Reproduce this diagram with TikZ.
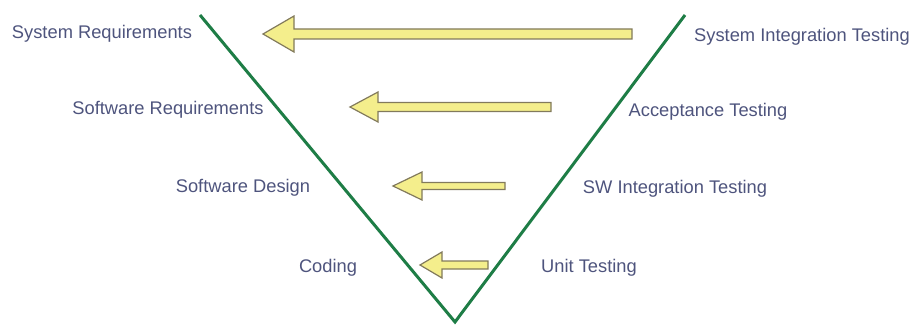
\documentclass[tikz,border=0pt]{standalone}
\usepackage{fontspec}
\setmainfont{Liberation Sans}
\definecolor{vgreen}{RGB}{30,125,70}
\definecolor{lbl}{RGB}{78,84,125}
\definecolor{afill}{RGB}{244,238,140}
\definecolor{adraw}{RGB}{130,122,92}
\tikzset{
  lab/.style={text=lbl, font=\fontsize{18.3}{20}\selectfont, inner sep=0pt},
  vline/.style={draw=vgreen, line width=3pt, line join=miter},
  fatarrow/.style={fill=afill, draw=adraw, line width=1.2pt, line join=miter},
}
% tip x, head base x, tail x, y, half head, half shaft
\newcommand\fatarrowpath[6]{%
  \draw[fatarrow] (#3,#4-#6) -- (#2,#4-#6) -- (#2,#4-#5) -- (#1,#4) -- (#2,#4+#5) -- (#2,#4+#6) -- (#3,#4+#6) -- cycle;}
\begin{document}
\begin{tikzpicture}[x=1pt,y=-1pt]
\useasboundingbox (0,0) rectangle (914,326);
\coordinate (vl) at (200,15);
\coordinate (vb) at (455,322);
\coordinate (vr) at (685,15);
\draw[vline] (vl) -- (vb) -- (vr);

\fatarrowpath{263}{294}{632}{34}{18}{5}
\fatarrowpath{350}{378}{551}{107}{15}{4.5}
\fatarrowpath{393}{422}{505}{186}{14}{3.5}
\fatarrowpath{420}{442}{488}{265}{13}{4}

\node[lab] (sr) at (102,34) {System Requirements};
\node[lab] (swr) at (168,110) {Software Requirements};
\node[lab] (sd) at (243,188) {Software Design};
\node[lab] (cod) at (328,268) {Coding};
\node[lab] (sit) at (802,37) {System Integration Testing};
\node[lab] (at) at (708,112) {Acceptance Testing};
\node[lab] (swit) at (675,189) {SW Integration Testing};
\node[lab] (ut) at (589,268) {Unit Testing};
\end{tikzpicture}
\end{document}
